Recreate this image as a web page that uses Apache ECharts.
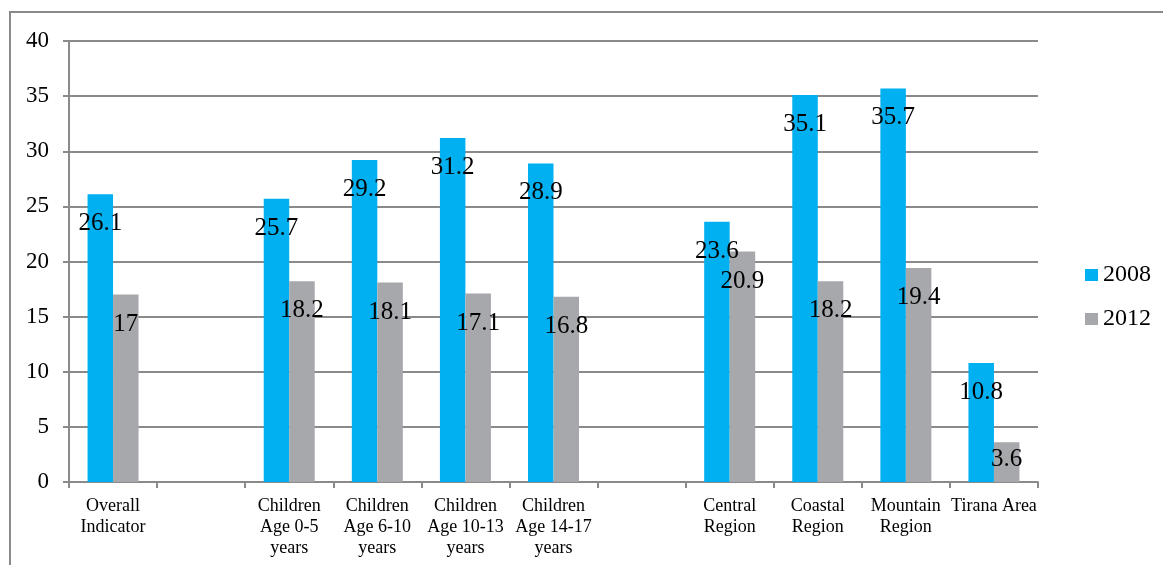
<!DOCTYPE html>
<html>
<head>
<meta charset="utf-8">
<title>2008 vs 2012</title>
<script src="https://cdn.jsdelivr.net/npm/echarts@6/dist/echarts.min.js"></script>
<style>
  html, body { margin: 0; padding: 0; background: #fff; }
  #chart { width: 1163px; height: 565px; }
</style>
</head>
<body>
<div id="chart"></div>
<script>
// Categories (blank entries are spacer slots between the groups)
const categories = [
  'Overall\nIndicator',
  '',
  'Children\nAge 0-5\nyears',
  'Children\nAge 6-10\nyears',
  'Children\nAge 10-13\nyears',
  'Children\nAge 14-17\nyears',
  '',
  'Central\nRegion',
  'Coastal\nRegion',
  'Mountain\nRegion',
  'Tirana Area'
];

const seriesNames = ['2008', '2012'];
const values2008 = [26.1, null, 25.7, 29.2, 31.2, 28.9, null, 23.6, 35.1, 35.7, 10.8];
const values2012 = [17, null, 18.2, 18.1, 17.1, 16.8, null, 20.9, 18.2, 19.4, 3.6];

const yMin = 0;
const yMax = 40;
const yStep = 5;

const serif = '"Liberation Serif", "Times New Roman", serif';
const gridColor = '#8a8a8a';

// The short Tirana 2012 bar keeps its label closer to the bar top
const labelDistance2012 = { 10: 5 };

function toData(values, distanceOverrides) {
  return values.map((v, i) => {
    if (distanceOverrides && distanceOverrides[i] !== undefined) {
      return { value: v, label: { distance: distanceOverrides[i] } };
    }
    return v;
  });
}

const valueLabel = {
  show: true,
  position: 'insideTop',
  distance: 17,
  color: '#000',
  fontFamily: serif,
  fontSize: 25
};

const chart = echarts.init(document.getElementById('chart'), null, { renderer: 'canvas' });

chart.setOption({
  animation: false,
  backgroundColor: '#fff',
  graphic: [{
    type: 'rect',
    shape: { x: 10, y: 12, width: 1200, height: 600 },
    style: { fill: 'none', stroke: gridColor, lineWidth: 2 },
    silent: true,
    z: -1
  }],
  grid: { left: 69, right: 125, top: 41, bottom: 83, containLabel: false },
  legend: {
    orient: 'vertical',
    left: 1080,
    top: 258,
    itemWidth: 13,
    itemHeight: 12,
    itemGap: 20,
    icon: 'rect',
    textStyle: { fontFamily: serif, fontSize: 24, color: '#000' },
    data: seriesNames
  },
  xAxis: {
    type: 'category',
    data: categories,
    axisLine: { show: true, lineStyle: { color: gridColor, width: 2 } },
    axisTick: { show: true, length: 6, lineStyle: { color: gridColor, width: 2 } },
    axisLabel: {
      interval: 0,
      margin: 14,
      color: '#000',
      fontFamily: serif,
      fontSize: 18,
      lineHeight: 21
    },
    splitLine: { show: false }
  },
  yAxis: {
    type: 'value',
    min: yMin,
    max: yMax,
    interval: yStep,
    axisLine: { show: true, lineStyle: { color: gridColor, width: 2 } },
    axisTick: { show: true, length: 6, lineStyle: { color: gridColor, width: 2 } },
    axisLabel: {
      margin: 20,
      color: '#000',
      fontFamily: serif,
      fontSize: 23
    },
    splitLine: { show: true, lineStyle: { color: gridColor, width: 2 } }
  },
  series: [
    {
      name: seriesNames[0],
      type: 'bar',
      data: toData(values2008),
      barWidth: 25.5,
      barGap: '0%',
      itemStyle: { color: '#00b0f0' },
      label: valueLabel
    },
    {
      name: seriesNames[1],
      type: 'bar',
      data: toData(values2012, labelDistance2012),
      barWidth: 25.5,
      barGap: '0%',
      itemStyle: { color: '#a7a8ac' },
      label: valueLabel
    }
  ]
});
</script>
</body>
</html>
